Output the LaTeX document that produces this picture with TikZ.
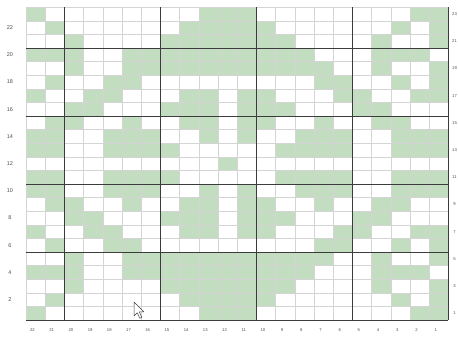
\documentclass[tikz,border=0pt]{standalone}
\usepackage{fontspec}
\setsansfont{Liberation Sans}
\begin{document}
\begin{tikzpicture}[x=1pt,y=-1pt]
\definecolor{cellg}{RGB}{194,221,192}
\definecolor{thin}{RGB}{212,212,212}
\definecolor{thick}{RGB}{60,60,60}
\definecolor{labc}{RGB}{80,80,80}
\tikzset{
  cellfill/.style={fill=cellg},
  thinline/.style={draw=thin,line width=0.5pt},
  thickline/.style={draw=thick,line width=0.9pt},
  lab/.style={font=\sffamily\fontsize{5.5}{5.5}\selectfont,text=labc,inner sep=0pt},
  smalllab/.style={font=\sffamily\fontsize{4.2}{4.2}\selectfont,text=labc,inner sep=0pt},
  cursor/.style={fill=white,draw=black!75,line width=0.5pt,line join=round}
}
\useasboundingbox (0,0) rectangle (458,345);
\fill[white] (0,0) rectangle (458,345);
% green cells
\foreach \r/\cols in {
  23/{22,13,12,11,2,1},
  22/{21,14,13,12,11,10,3,1},
  21/{20,15,14,13,12,11,10,9,4,1},
  20/{22,21,20,17,16,15,14,13,12,11,10,9,8,4,3,2},
  19/{20,17,16,15,14,13,12,11,10,9,8,7,4,1},
  18/{21,18,17,7,6,3,1},
  17/{22,19,18,14,13,11,10,6,5,2,1},
  16/{20,19,15,14,13,11,10,9,5,4},
  15/{21,20,17,14,13,11,10,7,4,3},
  14/{22,21,18,17,16,13,11,8,7,6,3,2,1},
  13/{22,21,18,17,16,15,9,8,7,6,3,2,1},
  12/{12},
  11/{22,21,18,17,16,15,9,8,7,6,3,2,1},
  10/{22,21,18,17,16,13,11,8,7,6,3,2,1},
  9/{21,20,17,14,13,11,10,7,4,3},
  8/{20,19,15,14,13,11,10,9,5,4},
  7/{22,19,18,14,13,11,10,6,5,2,1},
  6/{21,18,17,7,6,3,1},
  5/{20,17,16,15,14,13,12,11,10,9,8,7,4,1},
  4/{22,21,20,17,16,15,14,13,12,11,10,9,8,4,3,2},
  3/{20,15,14,13,12,11,10,9,4,1},
  2/{21,14,13,12,11,10,3,1},
  1/{22,13,12,11,2,1}}{
  \foreach \c in \cols {
    \fill[cellfill] ({26+(22-\c)*19.2},{320-\r*13.6}) rectangle ++(19.2,13.6);
  }
}
% thin grid
\foreach \k in {0,...,22} {
  \draw[thinline] ({26+\k*19.2},7.2) -- ({26+\k*19.2},320);
}
\foreach \k in {0,...,23} {
  \draw[thinline] (26,{320-\k*13.6}) -- (448.4,{320-\k*13.6});
}
% thick grid
\foreach \k in {2,7,12,17,22} {
  \draw[thickline] ({26+\k*19.2},7.2) -- ({26+\k*19.2},320);
}
\foreach \k in {0,5,10,15,20} {
  \draw[thickline] (26,{320-\k*13.6}) -- (448.4,{320-\k*13.6});
}
% labels
\foreach \r in {2,4,...,22} {
  \node[lab] (L\r) at (10,{320-(\r-0.5)*13.6}) {\r};
}
\foreach \r in {1,3,...,23} {
  \node[smalllab] (R\r) at (454.5,{320-(\r-0.5)*13.6}) {\r};
}
\foreach \c in {1,...,22} {
  \node[smalllab] (B\c) at ({26+(22-\c)*19.2+6.5},330) {\c};
}
% mouse cursor
\draw[cursor] (134,302) -- (134,316) -- (137.3,312.8) -- (139.8,318.3) -- (141.8,317.4) -- (139.3,311.9) -- (143.8,311.9) -- cycle;
\end{tikzpicture}
\end{document}
